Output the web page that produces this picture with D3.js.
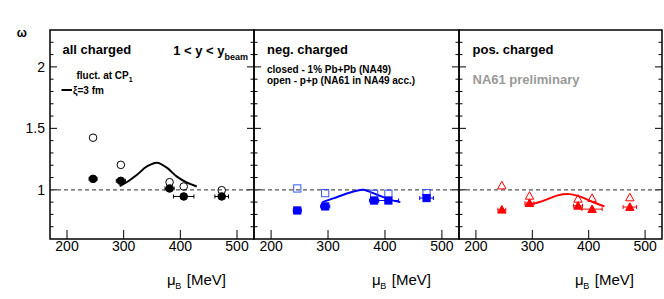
<!DOCTYPE html>
<html><head><meta charset="utf-8">
<script src="https://cdn.jsdelivr.net/npm/d3@7"></script>
<style>body{margin:0;background:#fff}svg{display:block;font-family:"Liberation Sans",Arial,Helvetica,sans-serif}</style>
</head><body><svg id="c" width="664" height="299"></svg>
<script>
// ---- data ----
const muB = [246, 295, 381, 406, 473];
const muBErr = [7, 8, 8, 18, 12];
const allPbPb = [1.089, 1.073, 1.011, 0.946, 0.946];
const allPP   = [1.424, 1.203, 1.062, 1.027, 0.997];
const negPbPb = [0.832, 0.865, 0.913, 0.913, 0.933];
const negPP   = [1.011, 0.973, 0.968, 0.968, 0.973];
const posPbPb = [0.838, 0.892, 0.870, 0.843, 0.860];
const posPP   = [1.035, 0.951, 0.927, 0.933, 0.938];
const yErr = [0.025, 0.025, 0.025, 0.025, 0.025];
const allCurve = [[293,1.03],[308,1.07],[323,1.12],[341,1.19],[359,1.22],[376,1.18],[394,1.107],[411,1.06],[429,1.027]];
const negCurve = [[290,0.90],[309,0.93],[333,0.97],[352,0.995],[362,1.0],[386,0.96],[409,0.92],[427,0.90]];
const posCurve = [[287,0.873],[305,0.89],[325,0.92],[345,0.955],[366,0.965],[385,0.945],[405,0.905],[428,0.865]];
const xTicks = [200, 300, 400, 500];
const yTicksMajor = [1, 1.5, 2];
const yTickLabels = ["1", "1.5", "2"];

const svg = d3.select("#c");
const plotTop = 30, plotBottom = 239;
const y = d3.scaleLinear().domain([0.6, 2.3]).range([plotBottom, plotTop]);
const panels = [
  {l:50, r:254, color:"#000", openColor:"#000", shape:"circle", pb:allPbPb, pp:allPP, curve:allCurve},
  {l:254, r:459, color:"#0000ff", openColor:"#3355ff", shape:"square", pb:negPbPb, pp:negPP, curve:negCurve},
  {l:459, r:662, color:"#ff0000", openColor:"#ff0000", shape:"triangle", pb:posPbPb, pp:posPP, curve:posCurve}
];
const minorY = d3.range(0.7, 2.3, 0.1).map(v => Math.round(v*10)/10);

panels.forEach((p, pi) => {
  const x = d3.scaleLinear().domain([170, 530]).range([p.l, p.r]);
  const g = svg.append("g");
  minorY.forEach(v => {
    const major = yTicksMajor.some(m => Math.abs(m - v) < 1e-6);
    const len = major ? 7 : 3.5;
    g.append("line").attr("x1", p.l).attr("x2", p.l + len).attr("y1", y(v)).attr("y2", y(v)).attr("stroke", "#000").attr("stroke-width", 1);
    g.append("line").attr("x1", p.r).attr("x2", p.r - len).attr("y1", y(v)).attr("y2", y(v)).attr("stroke", "#000").attr("stroke-width", 1);
  });
  xTicks.forEach(t => {
    g.append("line").attr("x1", x(t)).attr("x2", x(t)).attr("y1", plotBottom).attr("y2", plotBottom - 9).attr("stroke", "#000").attr("stroke-width", 1);
    g.append("text").attr("x", x(t)).attr("y", 251).attr("text-anchor", "middle").attr("font-size", 14).text(t);
  });
  const xe = p.r - 28;
  const xl = g.append("text").attr("x", xe - 59).attr("y", 285).attr("font-size", 15);
  xl.append("tspan").text("μ");
  xl.append("tspan").attr("font-size", 9).attr("dy", 4).attr("dx", -0.5).text("B");
  xl.append("tspan").attr("x", xe).attr("text-anchor", "end").attr("dy", -4).text("[MeV]");

  g.append("line").attr("x1", p.l).attr("x2", p.r).attr("y1", y(1)).attr("y2", y(1))
    .attr("stroke", "#555").attr("stroke-width", 1.2).attr("stroke-dasharray", "4,3");

  g.append("path").datum(p.curve)
    .attr("d", d3.line().x(d => x(d[0])).y(d => y(d[1])).curve(d3.curveCatmullRom))
    .attr("fill", "none").attr("stroke", p.color).attr("stroke-width", 2);

  const marker = (sel, cx, cy, filled, col) => {
    const s = p.shape;
    if (s === "circle") {
      sel.append("circle").attr("cx", cx).attr("cy", cy).attr("r", 3.8)
        .attr("fill", filled ? col : "none").attr("stroke", col).attr("stroke-width", 1);
    } else if (s === "square") {
      const h = 3.6;
      sel.append("rect").attr("x", cx - h).attr("y", cy - h).attr("width", 2*h).attr("height", 2*h)
        .attr("fill", filled ? col : "none").attr("stroke", col).attr("stroke-width", 1);
    } else {
      const h = 4.2;
      sel.append("path").attr("d", `M${cx},${cy-h}L${cx+h},${cy+h*0.8}L${cx-h},${cy+h*0.8}Z`)
        .attr("fill", filled ? col : "none").attr("stroke", col).attr("stroke-width", 1);
    }
  };

  muB.forEach((m, i) => marker(g, x(m), y(p.pp[i]), false, p.openColor));
  muB.forEach((m, i) => {
    const cx = x(m), cy = y(p.pb[i]);
    const x0 = x(m - muBErr[i]), x1 = x(m + muBErr[i]);
    g.append("line").attr("x1", x0).attr("x2", x1).attr("y1", cy).attr("y2", cy).attr("stroke", p.color).attr("stroke-width", 1);
    [x0, x1].forEach(xx => g.append("line").attr("x1", xx).attr("x2", xx).attr("y1", cy - 2).attr("y2", cy + 2).attr("stroke", p.color).attr("stroke-width", 1));
    g.append("line").attr("x1", cx).attr("x2", cx).attr("y1", y(p.pb[i] - yErr[i])).attr("y2", y(p.pb[i] + yErr[i])).attr("stroke", p.color).attr("stroke-width", 2);
    marker(g, cx, cy, true, p.color);
  });

  g.append("rect").attr("x", p.l).attr("y", plotTop).attr("width", p.r - p.l).attr("height", plotBottom - plotTop)
    .attr("fill", "none").attr("stroke", "#000").attr("stroke-width", 1.5);
});

yTicksMajor.forEach((v, i) => {
  svg.append("text").attr("x", 45).attr("y", y(v) + 5).attr("text-anchor", "end").attr("font-size", 14).text(yTickLabels[i]);
});
svg.append("text").attr("x", 21.7).attr("y", 37).attr("text-anchor", "middle")
  .attr("font-size", 12).attr("font-weight", "bold").text("ω");

const t = (x0, y0, s, size, col) => svg.append("text").attr("x", x0).attr("y", y0).attr("font-size", size)
  .attr("font-weight", "bold").attr("fill", col || "#000").text(s);
t(62.5, 54, "all charged", 13);
const yb = svg.append("text").attr("x", 248).attr("y", 55).attr("text-anchor", "end").attr("font-size", 13).attr("font-weight", "bold");
yb.append("tspan").text("1 < y < y");
yb.append("tspan").attr("font-size", 9).attr("dy", 5).text("beam");
const cp = svg.append("text").attr("x", 76.5).attr("y", 79).attr("font-size", 10).attr("font-weight", "bold");
cp.append("tspan").text("fluct. at CP");
cp.append("tspan").attr("font-size", 7).attr("dy", 3).text("1");
svg.append("line").attr("x1", 61.5).attr("x2", 72).attr("y1", 90).attr("y2", 90).attr("stroke", "#000").attr("stroke-width", 2);
t(73, 93.5, "ξ=3 fm", 10);
t(267, 54, "neg. charged", 13);
t(267, 72.5, "closed - 1% Pb+Pb (NA49)", 10);
t(267, 84, "open - p+p (NA61 in NA49 acc.)", 10);
t(472.5, 54, "pos. charged", 13);
t(472.5, 84, "NA61 preliminary", 13, "#999");
</script></body></html>
